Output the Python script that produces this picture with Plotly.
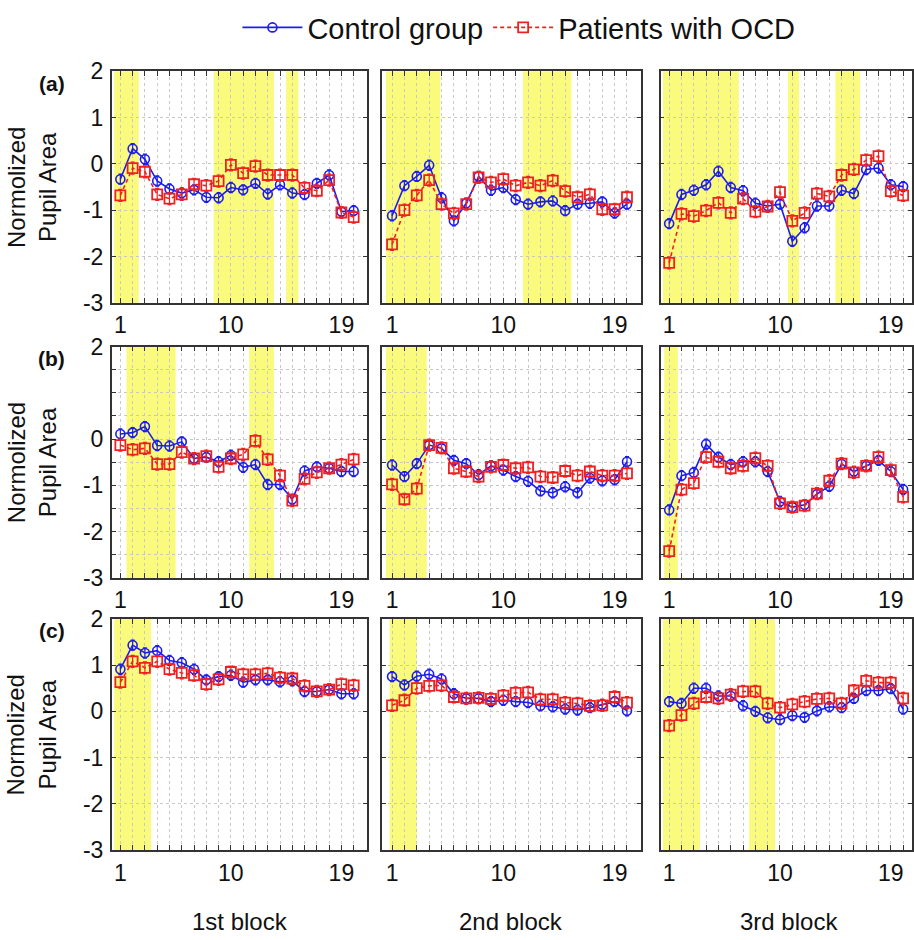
import plotly.graph_objects as go
from plotly.subplots import make_subplots

x_points = list(range(1, 21))
x_tick_vals = list(range(1, 21))
x_tick_text = ["1", "", "", "", "", "", "", "", "", "10", "", "", "", "", "", "", "", "", "19", ""]
block_labels = ["1st block", "2nd block", "3rd block"]
row_labels = ["(a)", "(b)", "(c)"]
y_title = "Normolized<br>Pupil Area"

# Control group (blue) per row/col
control_a1 = [-0.33, 0.33, 0.10, -0.37, -0.54, -0.63, -0.56, -0.72, -0.73, -0.51, -0.56, -0.42, -0.65, -0.45, -0.63, -0.66, -0.42, -0.24, -1.03, -1.01]
control_a2 = [-1.12, -0.47, -0.27, -0.03, -0.73, -1.23, -0.85, -0.27, -0.57, -0.51, -0.77, -0.87, -0.82, -0.80, -1.01, -0.87, -0.85, -0.82, -1.06, -0.87]
control_a3 = [-1.29, -0.66, -0.57, -0.45, -0.16, -0.51, -0.58, -0.85, -0.91, -0.87, -1.67, -1.38, -0.91, -0.91, -0.57, -0.64, -0.12, -0.09, -0.45, -0.49]
control_b1 = [0.11, 0.14, 0.27, -0.14, -0.15, -0.06, -0.42, -0.39, -0.49, -0.35, -0.61, -0.55, -0.98, -0.98, -1.30, -0.69, -0.60, -0.63, -0.70, -0.70]
control_b2 = [-0.56, -0.81, -0.53, -0.13, -0.20, -0.46, -0.53, -0.77, -0.58, -0.67, -0.81, -0.91, -1.12, -1.16, -1.03, -1.16, -0.84, -0.90, -0.88, -0.49]
control_b3 = [-1.53, -0.79, -0.72, -0.11, -0.39, -0.55, -0.49, -0.49, -0.70, -1.35, -1.47, -1.42, -1.19, -1.02, -0.54, -0.70, -0.58, -0.46, -0.70, -1.09]
control_c1 = [0.91, 1.43, 1.26, 1.31, 1.10, 1.05, 0.91, 0.68, 0.75, 0.78, 0.63, 0.68, 0.68, 0.64, 0.66, 0.43, 0.43, 0.47, 0.38, 0.38]
control_c2 = [0.75, 0.57, 0.76, 0.80, 0.70, 0.38, 0.28, 0.28, 0.21, 0.24, 0.21, 0.19, 0.12, 0.10, 0.05, 0.03, 0.08, 0.15, 0.21, 0.01]
control_c3 = [0.21, 0.17, 0.50, 0.50, 0.33, 0.33, 0.12, 0.00, -0.14, -0.18, -0.09, -0.13, 0.01, 0.10, 0.08, 0.28, 0.45, 0.45, 0.49, 0.05]

# Patients with OCD (red)
ocd_a1 = [-0.68, -0.09, -0.17, -0.66, -0.75, -0.66, -0.44, -0.47, -0.37, -0.02, -0.20, -0.05, -0.24, -0.24, -0.24, -0.52, -0.58, -0.35, -1.05, -1.15]
ocd_a2 = [-1.74, -1.00, -0.68, -0.35, -0.87, -1.07, -0.87, -0.29, -0.40, -0.33, -0.47, -0.40, -0.47, -0.36, -0.59, -0.72, -0.66, -0.98, -0.98, -0.72]
ocd_a3 = [-2.14, -1.08, -1.13, -1.01, -0.84, -1.06, -0.75, -1.03, -0.92, -0.61, -1.23, -1.06, -0.64, -0.70, -0.24, -0.12, 0.08, 0.17, -0.59, -0.68]
ocd_b1 = [-0.13, -0.23, -0.20, -0.54, -0.54, -0.28, -0.42, -0.37, -0.60, -0.42, -0.33, -0.04, -0.44, -0.79, -1.33, -0.86, -0.72, -0.63, -0.55, -0.44]
ocd_b2 = [-0.98, -1.30, -1.07, -0.13, -0.19, -0.63, -0.70, -0.81, -0.60, -0.56, -0.63, -0.61, -0.81, -0.83, -0.69, -0.79, -0.70, -0.79, -0.79, -0.74]
ocd_b3 = [-2.42, -1.09, -0.95, -0.39, -0.49, -0.63, -0.58, -0.41, -0.58, -1.39, -1.47, -1.44, -1.18, -0.90, -0.53, -0.72, -0.58, -0.39, -0.67, -1.25]
ocd_c1 = [0.63, 1.08, 0.94, 1.08, 0.91, 0.83, 0.78, 0.59, 0.69, 0.85, 0.80, 0.80, 0.82, 0.73, 0.71, 0.55, 0.43, 0.47, 0.59, 0.56]
ocd_c2 = [0.13, 0.24, 0.50, 0.55, 0.56, 0.31, 0.28, 0.29, 0.27, 0.34, 0.40, 0.41, 0.26, 0.26, 0.19, 0.17, 0.12, 0.13, 0.31, 0.19]
ocd_c3 = [-0.31, -0.08, 0.17, 0.31, 0.28, 0.36, 0.43, 0.43, 0.17, 0.08, 0.15, 0.21, 0.27, 0.28, 0.17, 0.45, 0.66, 0.62, 0.62, 0.28]

control_err = 0.11
ocd_err = 0.13

# Significant-difference (yellow) intervals, in trial units
yellow_a1 = [(0.5, 2.5), (8.6, 13.5), (14.5, 15.5)]
yellow_a2 = [(0.5, 4.9), (11.6, 15.5)]
yellow_a3 = [(0.5, 6.65), (10.65, 11.55), (14.5, 16.5)]
yellow_b1 = [(1.5, 5.5), (11.5, 13.5)]
yellow_b2 = [(0.5, 3.8)]
yellow_b3 = [(0.6, 1.7)]
yellow_c1 = [(0.5, 3.5)]
yellow_c2 = [(0.8, 3.0)]
yellow_c3 = [(0.5, 3.5), (7.5, 9.6)]

control = [[control_a1, control_a2, control_a3], [control_b1, control_b2, control_b3], [control_c1, control_c2, control_c3]]
ocd = [[ocd_a1, ocd_a2, ocd_a3], [ocd_b1, ocd_b2, ocd_b3], [ocd_c1, ocd_c2, ocd_c3]]
yellow = [[yellow_a1, yellow_a2, yellow_a3], [yellow_b1, yellow_b2, yellow_b3], [yellow_c1, yellow_c2, yellow_c3]]

W, H = 914, 940
col_px = [(112, 368), (383, 642), (662, 914)]
row_px = [(60, 298), (343, 581), (623, 861)]
x_ranges = [[0.3, 21.1], [0.2, 21.1], [0.3, 20.72]]

BLUE = "#1c1cf0"
RED = "#f02020"
FONT = "Liberation Sans, Arial, sans-serif"

fig = make_subplots(rows=3, cols=3)

for r in range(3):
    for c in range(3):
        idx = r * 3 + c + 1
        fig.add_trace(go.Scatter(
            x=x_points, y=control[r][c], mode="lines+markers", name="Control group",
            legendgroup="ctrl", showlegend=(idx == 1),
            line=dict(color=BLUE, width=1.6),
            marker=dict(symbol="circle-open", size=9, color=BLUE, line=dict(width=1.6, color=BLUE)),
            error_y=dict(type="constant", value=control_err, width=2, thickness=1.2, color=BLUE),
        ), row=r + 1, col=c + 1)
        fig.add_trace(go.Scatter(
            x=x_points, y=ocd[r][c], mode="lines+markers", name="Patients with OCD",
            legendgroup="ocd", showlegend=(idx == 1),
            line=dict(color=RED, width=1.6, dash="4px,3px"),
            marker=dict(symbol="square-open", size=10, color=RED, line=dict(width=1.8, color=RED)),
            error_y=dict(type="constant", value=ocd_err, width=2, thickness=1.2, color=RED),
        ), row=r + 1, col=c + 1)
        xa = "x" if idx == 1 else f"x{idx}"
        ya = "y" if idx == 1 else f"y{idx}"
        for (x0, x1) in yellow[r][c]:
            fig.add_shape(type="rect", xref=xa, yref=f"{ya} domain", x0=x0, x1=x1, y0=0, y1=1,
                          fillcolor="#fafa7c", line=dict(width=0), layer="below")

        xd = [col_px[c][0] / W, col_px[c][1] / W]
        yd = [1 - row_px[r][1] / H, 1 - row_px[r][0] / H]
        fig.update_xaxes(
            domain=xd, range=x_ranges[c], tickmode="array", tickvals=x_tick_vals, ticktext=x_tick_text,
            ticks="inside", ticklen=5, tickwidth=1, tickcolor="#333", mirror="ticks",
            showline=True, linecolor="#333", linewidth=1.5,
            showgrid=True, gridcolor="#c8c8c8", griddash="dot", gridwidth=1, zeroline=False,
            tickfont=dict(size=23, color="#111", family=FONT), ticklabelstandoff=1,
            row=r + 1, col=c + 1)
        if r == 1:
            ytv = [-3, -2.5, -2, -1.5, -1, -0.5, 0, 0.5, 1, 1.5, 2]
            ytt = ["-3", "", "-2", "", "-1", "", "0", "", "", "", "2"]
        else:
            ytv = [-3, -2, -1, 0, 1, 2]
            ytt = ["-3", "-2", "-1", "0", "1", "2"]
        fig.update_yaxes(
            domain=yd, range=[-3, 2], tickmode="array", tickvals=ytv, ticktext=ytt,
            ticks="inside", ticklen=4, tickwidth=1, tickcolor="#333", mirror="ticks",
            showline=True, linecolor="#333", linewidth=1.5,
            showgrid=True, gridcolor="#c8c8c8", griddash="dot", gridwidth=1, zeroline=False,
            showticklabels=(c == 0),
            tickfont=dict(size=23, color="#111", family=FONT), ticklabelstandoff=2,
            row=r + 1, col=c + 1)

annotations = []
for r in range(3):
    yc = 1 - (row_px[r][0] + row_px[r][1]) / 2 / H
    annotations.append(dict(text=y_title, x=32 / W, y=yc, xref="paper", yref="paper",
                            textangle=-90, showarrow=False, xanchor="center", yanchor="middle",
                            font=dict(size=24, color="#111", family=FONT)))
    annotations.append(dict(text=f"<b>{row_labels[r]}</b>", x=52 / W, y=1 - (row_px[r][0] + 12) / H,
                            xref="paper", yref="paper", showarrow=False, xanchor="center", yanchor="middle",
                            font=dict(size=21, color="#111", family=FONT)))
for c in range(3):
    xc_px = (col_px[c][0] + col_px[c][0] + 258) / 2
    annotations.append(dict(text=block_labels[c], x=xc_px / W, y=1 - 934 / H, xref="paper", yref="paper",
                            showarrow=False, xanchor="center", yanchor="middle",
                            font=dict(size=24, color="#111", family=FONT)))

fig.update_layout(
    width=W, height=H, margin=dict(l=0, r=0, t=0, b=0),
    paper_bgcolor="white", plot_bgcolor="white",
    font=dict(family=FONT, color="#111"),
    annotations=annotations,
    legend=dict(orientation="h", x=0.569, xanchor="center", y=1.012, yanchor="top",
                font=dict(size=29, family=FONT, color="#111"), itemwidth=60,
                bgcolor="rgba(0,0,0,0)", tracegroupgap=0),
)

fig.write_html("out.html")
